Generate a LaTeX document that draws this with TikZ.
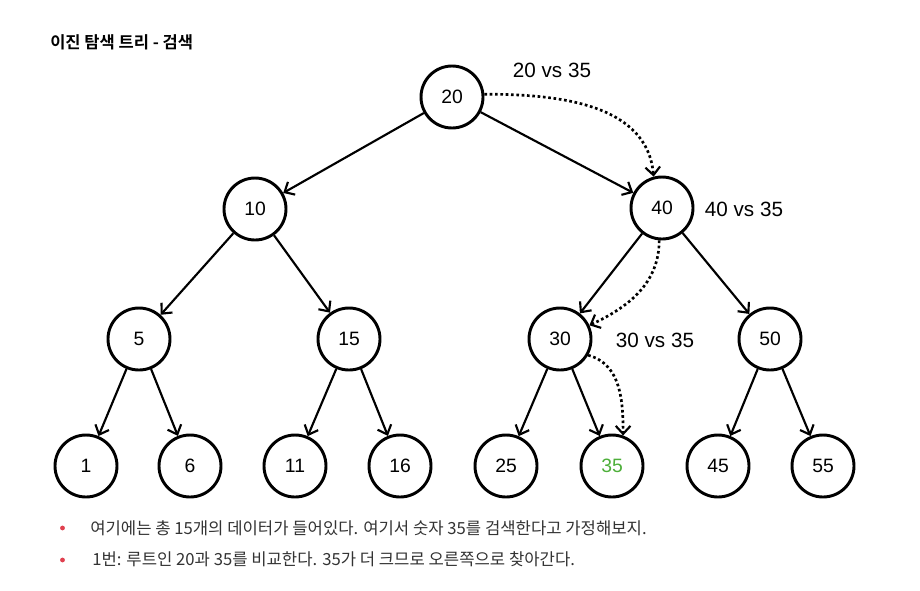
\documentclass[tikz,border=0pt]{standalone}
\usepackage{fontspec}
\setmainfont{Liberation Sans}
\newfontfamily\krfont{Noto Sans CJK KR}
\newfontfamily\krbold{Noto Sans CJK KR Bold}
\usetikzlibrary{arrows.meta}
\definecolor{txtgray}{HTML}{333333}
\definecolor{dotred}{HTML}{E0404F}
\definecolor{found}{HTML}{4DAF3A}
\tikzset{
  treenode/.style={circle, draw=black, line width=2.2pt, minimum size=46.5pt,
    inner sep=0pt, font=\fontsize{14.5}{16}\selectfont},
  edge/.style={line width=1.6pt, -{Straight Barb[length=6pt,width=11pt,line width=1.6pt]}},
  trail/.style={line width=2pt, dash pattern=on 2pt off 2pt,
    -{Straight Barb[length=6pt,width=11pt,line width=1.6pt]}},
  cmp/.style={font=\fontsize{15.5}{17}\selectfont, inner sep=0pt},
  note/.style={font=\krfont\fontsize{12.5}{14}\selectfont, text=txtgray, anchor=west, inner sep=0pt},
}
\begin{document}
\begin{tikzpicture}[x=0.75pt,y=-0.75pt]
\useasboundingbox[fill=white] (0,0) rectangle (920,590);

% heading
\node[anchor=west, inner sep=0pt, font=\krbold\fontsize{12.4}{14}\selectfont] (title) at (50,42) {이진 탐색 트리 - 검색};

% tree nodes
\node[treenode] (n20) at (452,97) {20};
\node[treenode] (n10) at (255,209) {10};
\node[treenode] (n40) at (662,208) {40};
\node[treenode] (n5)  at (139,339) {5};
\node[treenode] (n15) at (349,339) {15};
\node[treenode] (n30) at (560,339) {30};
\node[treenode] (n50) at (770,339) {50};
\node[treenode] (n1)  at (86,466) {1};
\node[treenode] (n6)  at (190,466) {6};
\node[treenode] (n11) at (295,466) {11};
\node[treenode] (n16) at (400,466) {16};
\node[treenode] (n25) at (506,466) {25};
\node[treenode, text=found] (n35) at (612,466) {35};
\node[treenode] (n45) at (718,466) {45};
\node[treenode] (n55) at (823,466) {55};

% tree edges
\draw[edge] (n20) -- (n10);
\draw[edge] (n20) -- (n40);
\draw[edge] (n10) -- (n5);
\draw[edge] (n10) -- (n15);
\draw[edge] (n40) -- (n30);
\draw[edge] (n40) -- (n50);
\draw[edge] (n5) -- (n1);
\draw[edge] (n5) -- (n6);
\draw[edge] (n15) -- (n11);
\draw[edge] (n15) -- (n16);
\draw[edge] (n30) -- (n25);
\draw[edge] (n30) -- (n35);
\draw[edge] (n50) -- (n45);
\draw[edge] (n50) -- (n55);

% search path
\draw[trail] (n20.5) to[out=0, in=95] (n40.105);
\draw[trail] (n40.-95) to[out=-90, in=25] (n30.25);
\draw[trail] (n30.-30) to[out=-15, in=90] (n35.70);

% comparison labels
\node[cmp] (c1) at (552,70) {20 vs 35};
\node[cmp] (c2) at (744,209) {40 vs 35};
\node[cmp] (c3) at (655,340) {30 vs 35};

% notes
\fill[dotred] (62.5,528) circle (2.4);
\fill[dotred] (62.5,560) circle (2.4);
\node[note] (t1) at (90,528) {여기에는 총 15개의 데이터가 들어있다. 여기서 숫자 35를 검색한다고 가정해보지.};
\node[note] (t2) at (92,559) {1번: 루트인 20과 35를 비교한다. 35가 더 크므로 오른쪽으로 찾아간다.};
\end{tikzpicture}
\end{document}
